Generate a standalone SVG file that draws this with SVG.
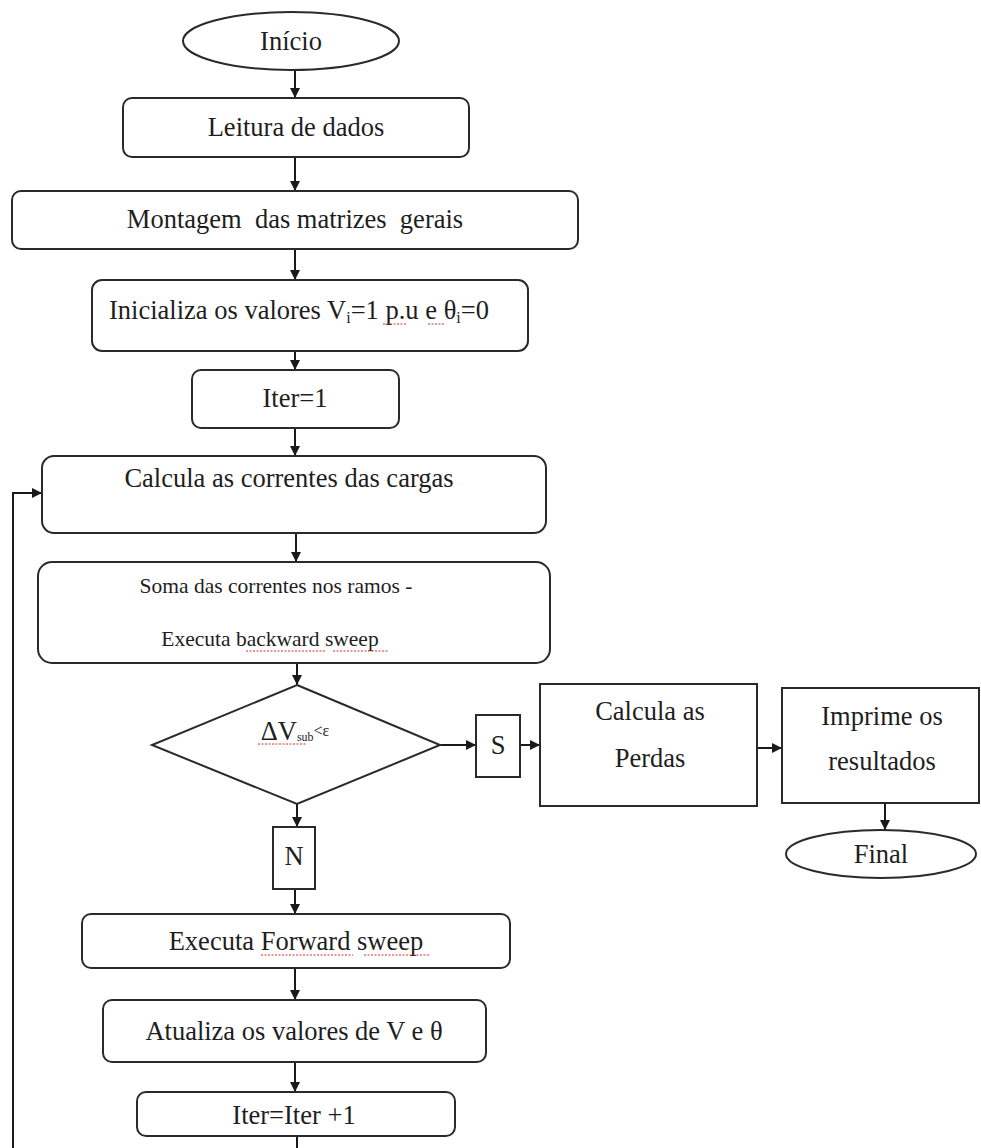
<svg xmlns="http://www.w3.org/2000/svg" width="981" height="1148" viewBox="0 0 981 1148">
<defs>
<marker id="ah" viewBox="0 0 10 10" refX="10" refY="5" markerWidth="10" markerHeight="10" markerUnits="userSpaceOnUse" orient="auto">
<path d="M0,0 L10,5 L0,10 z" fill="#1a1a1a"/>
</marker>
<style>
.b{fill:#fff;stroke:#2a2a2a;stroke-width:2}
.t{font-family:"Liberation Serif","Times New Roman",serif;font-size:26.5px;fill:#1e1e1e;text-anchor:middle}
.s{font-size:21.5px}
.c{fill:none;stroke:#1a1a1a;stroke-width:2}
.w{fill:none;stroke:#d9302c;stroke-width:1.2;stroke-dasharray:2 1.5}
</style>
</defs>
<rect width="981" height="1148" fill="#fff"/>

<g id="connectors">
<line class="c" x1="295" y1="71" x2="295" y2="98" marker-end="url(#ah)"/>
<line class="c" x1="295" y1="157" x2="295" y2="191" marker-end="url(#ah)"/>
<line class="c" x1="295" y1="249" x2="295" y2="280" marker-end="url(#ah)"/>
<line class="c" x1="295" y1="351" x2="295" y2="370" marker-end="url(#ah)"/>
<line class="c" x1="295" y1="428" x2="295" y2="456" marker-end="url(#ah)"/>
<line class="c" x1="296" y1="533" x2="296" y2="562" marker-end="url(#ah)"/>
<line class="c" x1="297" y1="663" x2="297" y2="685" marker-end="url(#ah)"/>
<line class="c" x1="440" y1="745" x2="476" y2="745" marker-end="url(#ah)"/>
<line class="c" x1="520" y1="745" x2="540" y2="745" marker-end="url(#ah)"/>
<line class="c" x1="757" y1="748" x2="782" y2="748" marker-end="url(#ah)"/>
<line class="c" x1="885" y1="803" x2="885" y2="830" marker-end="url(#ah)"/>
<line class="c" x1="297" y1="804" x2="297" y2="827" marker-end="url(#ah)"/>
<line class="c" x1="295" y1="889" x2="295" y2="914" marker-end="url(#ah)"/>
<line class="c" x1="295" y1="968" x2="295" y2="1000" marker-end="url(#ah)"/>
<line class="c" x1="295" y1="1062" x2="295" y2="1092" marker-end="url(#ah)"/>
<line class="c" x1="297" y1="1136" x2="297" y2="1148"/>
<polyline class="c" points="13,1148 13,493 42,493" marker-end="url(#ah)"/>
</g>

<g id="inicio">
<ellipse class="b" cx="291" cy="41" rx="108" ry="29"/>
<text class="t" x="291" y="50">Início</text>
</g>

<g id="leitura">
<rect class="b" x="123" y="98" width="346" height="59" rx="9"/>
<text class="t" x="296" y="136">Leitura de dados</text>
</g>

<g id="montagem">
<rect class="b" x="12" y="191" width="566" height="58" rx="9"/>
<text class="t" x="295" y="228" xml:space="preserve">Montagem  das matrizes  gerais</text>
</g>

<g id="inicializa">
<rect class="b" x="92" y="280" width="436" height="71" rx="10"/>
<text class="t" x="299" y="319">Inicializa os valores V<tspan font-size="16" dy="4">i</tspan><tspan dy="-4">=1 p.u e θ</tspan><tspan font-size="16" dy="4">i</tspan><tspan dy="-4">=0</tspan></text>
<path class="w" d="M383,324 L406,324 M428,324 L444,324"/>
</g>

<g id="iter1">
<rect class="b" x="192" y="370" width="207" height="58" rx="9"/>
<text class="t" x="295" y="407">Iter=1</text>
</g>

<g id="calcula">
<rect class="b" x="42" y="456" width="504" height="77" rx="12"/>
<text class="t" x="289" y="487">Calcula as correntes das cargas</text>
</g>

<g id="soma">
<rect class="b" x="38" y="562" width="512" height="101" rx="14"/>
<text class="t s" x="276" y="593">Soma das correntes nos ramos -</text>
<text class="t s" x="270" y="646">Executa backward sweep</text>
<path class="w" d="M246,651 L326,651 M333,651 L388,651"/>
</g>

<g id="decisao">
<polygon class="b" points="297,685 440,745 297,804 152,745"/>
<text class="t" x="295" y="740" font-size="20">ΔV<tspan font-size="12" dy="1">sub</tspan><tspan font-size="16" dy="-5">&lt;ε</tspan></text>
<path class="w" d="M258,744 L306,744"/>
</g>

<g id="s">
<rect class="b" x="476" y="715" width="44" height="62"/>
<text class="t" x="498" y="754" font-size="22">S</text>
</g>

<g id="perdas">
<rect class="b" x="540" y="684" width="217" height="122"/>
<text class="t" x="650" y="720">Calcula as</text>
<text class="t" x="650" y="767">Perdas</text>
</g>

<g id="imprime">
<rect class="b" x="782" y="688" width="197" height="115"/>
<text class="t" x="882" y="725">Imprime os</text>
<text class="t" x="882" y="770">resultados</text>
</g>

<g id="final">
<ellipse class="b" cx="881" cy="854" rx="95" ry="24"/>
<text class="t" x="881" y="863">Final</text>
</g>

<g id="n">
<rect class="b" x="273" y="827" width="42" height="62"/>
<text class="t" x="294" y="865" font-size="22">N</text>
</g>

<g id="forward">
<rect class="b" x="82" y="914" width="428" height="54" rx="9"/>
<text class="t" x="296" y="950">Executa Forward sweep</text>
<path class="w" d="M261,955 L353,955 M364,955 L430,955"/>
</g>

<g id="atualiza">
<rect class="b" x="103" y="1000" width="383" height="62" rx="9"/>
<text class="t" x="294" y="1040">Atualiza os valores de V e θ</text>
</g>

<g id="iterinc">
<rect class="b" x="137" y="1092" width="318" height="44" rx="9"/>
<text class="t" x="294" y="1124">Iter=Iter +1</text>
</g>
</svg>
